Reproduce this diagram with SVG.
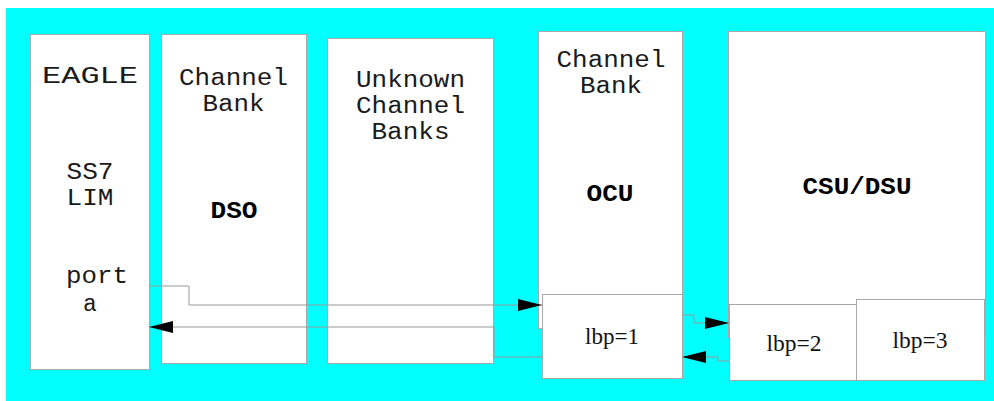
<svg xmlns="http://www.w3.org/2000/svg" width="994" height="401" viewBox="0 0 994 401">
<defs>
<style>
.box{fill:#ffffff;stroke:#a8a8a8;stroke-width:1}
.mono{font-family:"Liberation Mono","Courier New",monospace;font-size:23px;fill:#1a1a1a;text-anchor:middle}
.bold{font-weight:bold;fill:#000}
.serif{font-family:"Liberation Serif","Times New Roman",serif;font-size:24px;fill:#111;text-anchor:middle}
.conn{fill:none;stroke:#999999;stroke-width:1}
</style>
<marker id="arrow" viewBox="0 0 24 12" refX="24" refY="6" markerWidth="24" markerHeight="12" markerUnits="userSpaceOnUse" orient="auto">
<path d="M0,0 L24,6 L0,12 Z" fill="#000"/>
</marker>
</defs>
<rect x="0" y="0" width="994" height="401" fill="#ffffff"/>
<rect id="background" x="6" y="8" width="988" height="393" fill="#00ffff"/>

<g id="eagle">
<rect class="box" x="30.5" y="34.5" width="119" height="335"/>
<text class="mono" x="90" y="83" textLength="96" lengthAdjust="spacingAndGlyphs">EAGLE</text>
<text class="mono" x="90" y="179" textLength="47" lengthAdjust="spacingAndGlyphs">SS7</text>
<text class="mono" x="90" y="205" textLength="47" lengthAdjust="spacingAndGlyphs">LIM</text>
<text class="mono" x="97" y="283" textLength="62" lengthAdjust="spacingAndGlyphs">port</text>
<text class="mono" x="90" y="311">a</text>
</g>

<g id="channel-bank-dso">
<rect class="box" x="161.5" y="34.5" width="145" height="329"/>
<text class="mono" x="233.5" y="85" textLength="109" lengthAdjust="spacingAndGlyphs">Channel</text>
<text class="mono" x="233.5" y="111" textLength="62" lengthAdjust="spacingAndGlyphs">Bank</text>
<text class="mono bold" x="234" y="218" textLength="47" lengthAdjust="spacingAndGlyphs">DSO</text>
</g>

<g id="unknown-channel-banks">
<rect class="box" x="327.5" y="38.5" width="166" height="325"/>
<text class="mono" x="410.5" y="87" textLength="109" lengthAdjust="spacingAndGlyphs">Unknown</text>
<text class="mono" x="410.5" y="113" textLength="109" lengthAdjust="spacingAndGlyphs">Channel</text>
<text class="mono" x="410.5" y="139" textLength="78" lengthAdjust="spacingAndGlyphs">Banks</text>
</g>

<g id="channel-bank-ocu">
<rect class="box" x="538.5" y="31.5" width="144" height="297"/>
<text class="mono" x="611" y="67" textLength="109" lengthAdjust="spacingAndGlyphs">Channel</text>
<text class="mono" x="611" y="93" textLength="62" lengthAdjust="spacingAndGlyphs">Bank</text>
<text class="mono bold" x="610" y="201" textLength="47" lengthAdjust="spacingAndGlyphs">OCU</text>
</g>

<g id="csu-dsu">
<rect class="box" x="728.5" y="31.5" width="257" height="306"/>
<text class="mono bold" x="857" y="194" textLength="109" lengthAdjust="spacingAndGlyphs">CSU/DSU</text>
</g>

<g id="connectors">
<polyline class="conn" points="149,286 189,286 189,305 542,305" marker-end="url(#arrow)"/>
<polyline class="conn" points="542,357 494,357 494,327 149,327" marker-end="url(#arrow)"/>
<polyline class="conn" points="682,315 694,315 694,323 729,323" marker-end="url(#arrow)"/>
<polyline class="conn" points="729,361 718,361 718,357 682,357" marker-end="url(#arrow)"/>
</g>

<g id="lbp1">
<rect class="box" x="542.5" y="294.5" width="140" height="84"/>
<text class="serif" x="612" y="344" textLength="54" lengthAdjust="spacingAndGlyphs">lbp=1</text>
</g>

<g id="lbp2">
<rect class="box" x="729.5" y="304.5" width="127" height="76"/>
<text class="serif" x="794" y="351" textLength="55" lengthAdjust="spacingAndGlyphs">lbp=2</text>
</g>

<g id="lbp3">
<rect class="box" x="856.5" y="299.5" width="128" height="81"/>
<text class="serif" x="920" y="348" textLength="55" lengthAdjust="spacingAndGlyphs">lbp=3</text>
</g>
</svg>
